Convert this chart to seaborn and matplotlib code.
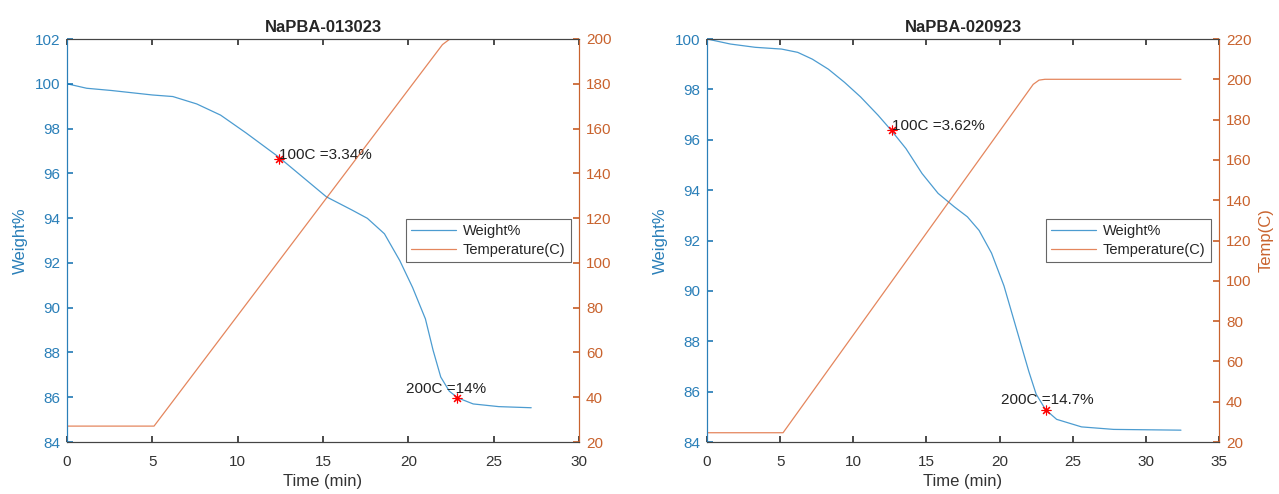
import matplotlib
matplotlib.use("Agg")
import matplotlib.pyplot as plt
import seaborn as sns
import pandas as pd

# ---------------- data ----------------
titles = ["NaPBA-013023", "NaPBA-020923"]

# Sample 1 (NaPBA-013023)
w1_time = [0, 1.15, 2.6, 5.0, 6.2, 7.6, 9.0, 10.5, 12.4, 13.8, 15.2, 16.7, 17.6,
           18.6, 19.5, 20.25, 21.0, 21.45, 21.9, 22.4, 22.9, 23.8, 25.3, 27.2]
w1_weight = [100.0, 99.8, 99.7, 99.5, 99.43, 99.1, 98.6, 97.8, 96.73, 95.84, 94.95,
             94.36, 93.99, 93.3, 92.1, 90.9, 89.5, 88.1, 86.9, 86.27, 85.97, 85.7,
             85.58, 85.53]
t1_time = [0, 5.1, 22.0, 22.4, 22.8, 27.2]
t1_temp = [27.1, 27.1, 197.5, 199.8, 200.0, 200.0]
marks1_time = [12.44, 22.88]
marks1_weight = [96.66, 85.97]
marks1_label = ["100C =3.34%", "200C =14%"]

# Sample 2 (NaPBA-020923)
w2_time = [0, 1.6, 3.3, 5.1, 6.2, 7.2, 8.3, 9.4, 10.5, 11.7, 12.6, 13.6, 14.7, 15.8,
           16.9, 17.8, 18.6, 19.45, 20.3, 21.1, 22.0, 22.5, 23.15, 23.9, 25.6, 27.8, 32.4]
w2_weight = [100.0, 99.8, 99.67, 99.6, 99.47, 99.2, 98.8, 98.28, 97.7, 96.97, 96.37,
             95.65, 94.66, 93.87, 93.34, 92.94, 92.4, 91.5, 90.2, 88.6, 86.8, 85.9,
             85.28, 84.9, 84.6, 84.5, 84.47]
t2_time = [0, 5.2, 22.3, 22.7, 23.1, 32.4]
t2_temp = [24.6, 24.6, 197.5, 199.6, 200.0, 200.0]
marks2_time = [12.62, 23.15]
marks2_weight = [96.37, 85.28]
marks2_label = ["100C =3.62%", "200C =14.7%"]

x_ticks = [[0, 5, 10, 15, 20, 25, 30], [0, 5, 10, 15, 20, 25, 30, 35]]
w_ticks = [[84, 86, 88, 90, 92, 94, 96, 98, 100, 102], [84, 86, 88, 90, 92, 94, 96, 98, 100]]
t_ticks = [[20, 40, 60, 80, 100, 120, 140, 160, 180, 200],
           [20, 40, 60, 80, 100, 120, 140, 160, 180, 200, 220]]
right_labels = [None, "Temp(C)"]

# ---------------- style ----------------
sns.set_theme(style="white")
plt.rcParams["font.family"] = ["Liberation Sans", "DejaVu Sans"]
BLUE = "#0072BD"
ORANGE = "#D95319"
BLUE_T = "#2a7fb8"
ORANGE_T = "#c9632e"

fig = plt.figure(figsize=(12.79, 4.94), dpi=100)
positions = [[67 / 1279, 52 / 494, 512 / 1279, 403 / 494],
             [707 / 1279, 52 / 494, 512 / 1279, 403 / 494]]

datasets = [
    (w1_time, w1_weight, t1_time, t1_temp, marks1_time, marks1_weight, marks1_label),
    (w2_time, w2_weight, t2_time, t2_temp, marks2_time, marks2_weight, marks2_label),
]
# text offsets (points) for the two annotations in each panel
text_offsets = [[(0, 2.5), (-37, 6.5)], [(0.5, 3), (-32, 7)]]

for i, (wt, ww, tt, tv, mt, mw, ml) in enumerate(datasets):
    ax = fig.add_axes(positions[i])
    ax2 = ax.twinx()
    wdf = pd.DataFrame({"Time": wt, "Weight": ww})
    tdf = pd.DataFrame({"Time": tt, "Temp": tv})
    sns.lineplot(data=wdf, x="Time", y="Weight", ax=ax, color=BLUE, lw=0.9,
                 alpha=0.7, label="Weight%", legend=False)
    sns.lineplot(data=tdf, x="Time", y="Temp", ax=ax2, color=ORANGE, lw=0.9,
                 alpha=0.7, label="Temperature(C)", legend=False)
    ax.plot(mt, mw, linestyle="none", marker=(8, 2, 0), color="red", ms=7, mew=0.8,
            zorder=5)
    for j in range(len(mt)):
        ax.annotate(ml[j], xy=(mt[j], mw[j]), xytext=text_offsets[i][j],
                    textcoords="offset points", ha="left", va="center",
                    fontsize=11, color="#222222", zorder=6)

    ax.set_xlim(x_ticks[i][0], x_ticks[i][-1])
    ax.set_ylim(w_ticks[i][0], w_ticks[i][-1])
    ax2.set_ylim(t_ticks[i][0], t_ticks[i][-1])
    ax.set_xticks(x_ticks[i])
    ax.set_yticks(w_ticks[i])
    ax2.set_yticks(t_ticks[i])

    ax.set_title(titles[i], fontsize=12, fontweight="bold", pad=5)
    ax.set_xlabel("Time (min)", fontsize=12, color="#333333", labelpad=4)
    ax.set_ylabel("Weight%", fontsize=12, color=BLUE_T, labelpad=5)
    if right_labels[i]:
        ax2.set_ylabel(right_labels[i], fontsize=12, color=ORANGE_T, labelpad=5)
    else:
        ax2.set_ylabel("")

    ax.tick_params(axis="x", direction="in", top=True, bottom=True, length=4,
                   labelsize=11, colors="#333333", pad=9)
    ax.tick_params(axis="y", direction="in", left=True, length=4, labelsize=11,
                   colors=BLUE_T, pad=5)
    ax2.tick_params(axis="y", direction="in", right=True, length=4, labelsize=11,
                    colors=ORANGE_T, pad=5)

    for a in (ax, ax2):
        for s in a.spines.values():
            s.set_linewidth(0.8)
        a.spines["top"].set_color("#444444")
        a.spines["bottom"].set_color("#444444")
        a.spines["left"].set_color(BLUE_T)
        a.spines["right"].set_color(ORANGE_T)
    ax.grid(False)
    ax2.grid(False)

    h1, l1 = ax.get_legend_handles_labels()
    h2, l2 = ax2.get_legend_handles_labels()
    leg = ax2.legend(h1[:1] + h2[:1], ["Weight%", "Temperature(C)"],
                     loc="upper left", bbox_to_anchor=(0.662, 0.553),
                     fontsize=10.5, frameon=True, fancybox=False, framealpha=1,
                     edgecolor="#666666", handlelength=3.1, borderpad=0.35,
                     labelspacing=0.3, handletextpad=0.45, borderaxespad=0)
    leg.get_frame().set_linewidth(0.8)

fig.savefig("out.png", dpi=100)
